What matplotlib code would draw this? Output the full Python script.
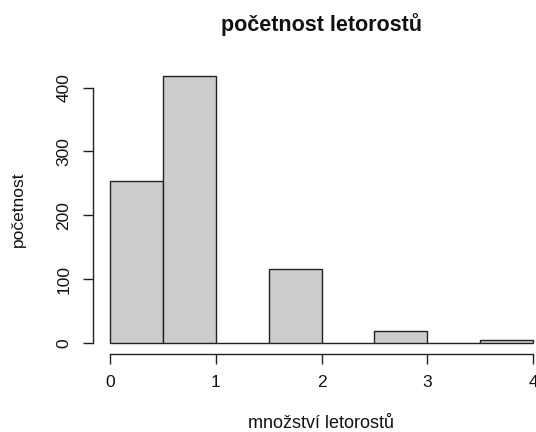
import matplotlib
matplotlib.use("Agg")
import matplotlib.pyplot as plt

bin_edges = [0, 0.5, 1.0, 1.5, 2.0, 2.5, 3.0, 3.5, 4.0]
counts = [253, 418, 0, 116, 0, 19, 0, 5]
x_ticks = [0, 1, 2, 3, 4]
y_ticks = [0, 100, 200, 300, 400]
title = "početnost letorostů"
xlabel = "množství letorostů"
ylabel = "početnost"

plt.rcParams['font.family'] = ['Liberation Sans', 'DejaVu Sans']

fig = plt.figure(figsize=(5.36, 4.32), dpi=100)
ax = fig.add_axes([93/536, (432-353.7)/432, 457/536, (353.7-65.4)/432])

lefts = bin_edges[:-1]
widths = [b - a for a, b in zip(bin_edges[:-1], bin_edges[1:])]
ax.bar(lefts, counts, width=widths, align='edge', color='#cccccc',
       edgecolor='#222222', linewidth=1.0)

xmin, xmax = bin_edges[0], bin_edges[-1]
ymax = max(counts)
ax.set_xlim(xmin - 0.04 * (xmax - xmin), xmax + 0.04 * (xmax - xmin))
ax.set_ylim(-0.04 * ymax, ymax * 1.04)

for s in ['top', 'right']:
    ax.spines[s].set_visible(False)
ax.spines['left'].set_bounds(y_ticks[0], y_ticks[-1])
ax.spines['bottom'].set_bounds(x_ticks[0], x_ticks[-1])
for s in ['left', 'bottom']:
    ax.spines[s].set_color('#222222')
    ax.spines[s].set_linewidth(1.0)
ax.set_xticks(x_ticks)
ax.set_yticks(y_ticks)
ax.tick_params(direction='out', length=7.5, width=1.0, colors='#222222',
               labelsize=12.5, labelcolor='#111111', pad=8)
for lab in ax.get_yticklabels():
    lab.set_rotation(90)
    lab.set_va('center')

fig.text(321.5/536, 1 - 31.5/432, title, ha='center', va='baseline',
         fontsize=15.5, fontweight='bold', color='#111111')
fig.text(321/536, 1 - 427.5/432, xlabel, ha='center', va='baseline',
         fontsize=13, color='#111111')
fig.text(23/536, 1 - 209/432, ylabel, ha='center', va='baseline',
         fontsize=12.5, rotation=90, rotation_mode='anchor', color='#111111')

fig.savefig("out.png", dpi=100)
